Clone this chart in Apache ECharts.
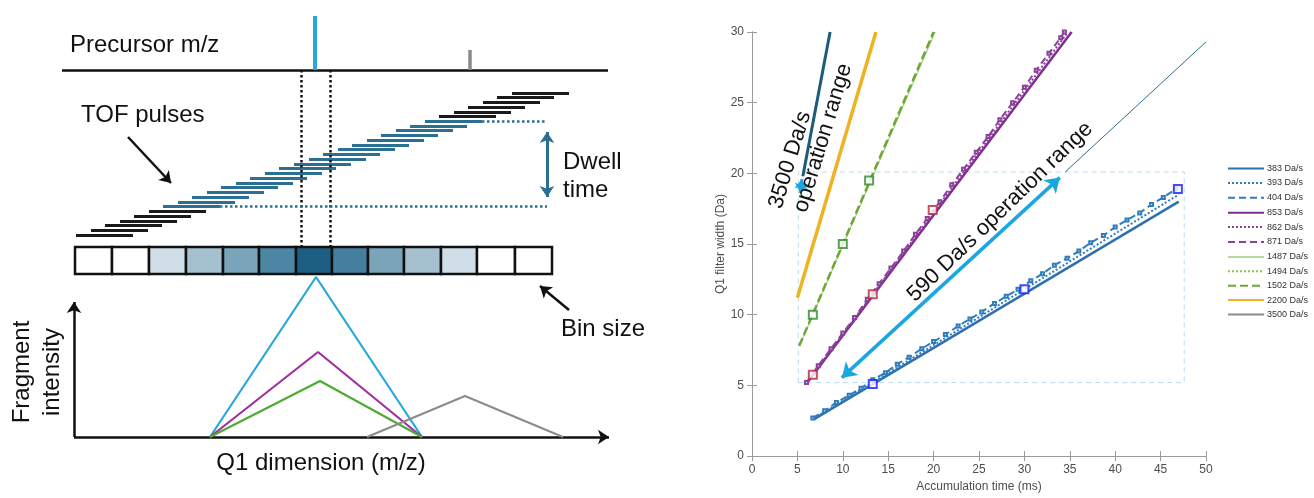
<!DOCTYPE html>
<html>
<head>
<meta charset="utf-8">
<script src="https://cdn.jsdelivr.net/npm/echarts@6/dist/echarts.min.js"></script>
<style>
  html, body { margin: 0; padding: 0; background: #fff; }
  #chart { width: 1314px; height: 498px; }
</style>
</head>
<body>
<div id="chart"></div>
<script>
// ---------- left: schematic (drawn on a hidden 620 x 498 value grid) ----------
const precursorAxis = [[62, 70], [608, 70]];
const precursorPeaks = [[[315, 16], [315, 70]], [[470, 50], [470, 70]]];
const windowX = [301, 330];
const windowY = [70, 247];

// TOF pulses: start x / y of each pulse bar, bars 6..24 fall inside the dwell time
const pulseX = [76, 91, 105, 120, 134, 149, 163, 178, 192, 207, 221, 236, 250, 265, 279, 294,
  309, 323, 338, 352, 367, 381, 396, 410, 425, 439, 454, 468, 483, 497, 512];
const pulseY = [235, 230.3, 225.5, 220.8, 216, 211.3, 206.6, 201.8, 197.1, 192.3, 187.6, 182.9,
  178.1, 173.4, 168.6, 163.9, 159.2, 154.4, 149.7, 144.9, 140.2, 135.5, 130.7, 126, 121.2,
  116.5, 111.8, 107, 102.3, 97.5, 92.8];
const pulseLen = 57;
const dwellPulses = [6, 24];
const dwellX = 547;

// Q1 bins
const binEdges = [75, 112, 149, 186, 223, 259, 296, 332, 368, 404, 441, 477, 515, 552];
const binShades = ['#ffffff', '#ffffff', '#cfdee7', '#a5c1d0', '#7aa4ba', '#4b86a4', '#1c5f82',
  '#447fa0', '#7aa4ba', '#a5c1d0', '#cfdee7', '#ffffff', '#ffffff'];
const binRowY = [247, 274];

// fragment peaks
const blueTri = [[210, 437], [316, 277], [422, 437]];
const purpleTri = [[210, 437], [318, 352], [422, 437]];
const greenTri = [[210, 437], [320, 381], [422, 437]];
const grayTri = [[367, 437], [465, 396], [563, 437]];

// ---------- right: Q1 filter width (Da) vs accumulation time (ms) ----------
const s383 = [[6.8, 2.6], [47.0, 18.0]];
const s393 = [[6.8, 2.65], [47.0, 18.5]];
const s404 = [[6.7, 2.7], [8.0, 3.2], [9.3, 3.8], [10.7, 4.3], [12.0, 4.8], [13.3, 5.4], [14.7, 5.9],
  [16.0, 6.5], [17.3, 7.0], [18.7, 7.6], [20.0, 8.1], [21.3, 8.6], [22.7, 9.2], [24.0, 9.7],
  [25.3, 10.2], [26.7, 10.8], [28.0, 11.3], [29.3, 11.8], [30.7, 12.4], [32.0, 12.9], [33.3, 13.5],
  [34.7, 14.0], [36.0, 14.5], [37.3, 15.1], [38.7, 15.6], [40.0, 16.2], [41.3, 16.7], [42.7, 17.2],
  [44.0, 17.8], [45.3, 18.3], [46.7, 18.9]];
const s853 = [[6.1, 5.2], [35.2, 30]];
const s862 = [[6.1, 5.25], [34.8, 30]];
const s871 = [[6.0, 5.2], [7.3, 6.4], [8.7, 7.6], [10.0, 8.7], [11.3, 9.8], [12.7, 11.1], [14.0, 12.2],
  [15.3, 13.3], [16.7, 14.5], [18.0, 15.7], [19.3, 16.8], [20.7, 18.0], [22.0, 19.2], [23.3, 20.3],
  [24.7, 21.5], [26.0, 22.6], [27.3, 23.8], [28.7, 25.0], [30.0, 26.1], [31.3, 27.3], [32.7, 28.5],
  [34.0, 29.6], [34.4, 30.0]];
const s1487 = [[5.3, 7.9], [20.2, 30]];
const s1494 = [[5.3, 7.9], [20.1, 30]];
const s1502 = [[5.2, 7.8], [20.0, 30]];
const s2200 = [[5.0, 11.2], [13.65, 30]];
const s3500 = [[5.6, 19.8], [8.6, 30]];

const blueMarks = [[13.3, 5.1], [30.0, 11.8], [46.9, 18.9]];
const redMarks = [[6.7, 5.75], [13.3, 11.45], [19.9, 17.4]];
const greenMarks = [[6.7, 10.0], [10.0, 15.0], [12.9, 19.5]];

const arrow590 = [[9.9, 5.55], [33.9, 19.7]];
const line590 = [[34.5, 20.1], [50, 29.3]];
const arrow3500 = [[5.5, 19.6], [5.35, 18.6]];
const rangeBox = [[5.1, 5.2], [47.6, 5.2], [47.6, 20.1], [5.1, 20.1], [5.1, 5.2]];

const FONT = '"Liberation Sans", Arial, sans-serif';
const chart = echarts.init(document.getElementById('chart'));

function seg(coords, color, width, type) {
  return { coords: coords, lineStyle: { color: color, width: width, type: type || 'solid', opacity: 1 } };
}

const pulseSegs = pulseX.map((x, i) => {
  const inDwell = i >= dwellPulses[0] && i <= dwellPulses[1];
  return seg([[x, pulseY[i]], [x + pulseLen, pulseY[i]]], inDwell ? '#2b6f92' : '#1a1a1a', 3);
});

const plainSegs = [
  seg(precursorAxis, '#111', 2.5),
  seg(precursorPeaks[0], '#27a7de', 4),
  seg(precursorPeaks[1], '#8a8a8a', 3.5)
].concat(pulseSegs).concat([
  seg([[windowX[0], windowY[0]], [windowX[0], windowY[1]]], '#111', 2.5, [2.5, 2.5]),
  seg([[windowX[1], windowY[0]], [windowX[1], windowY[1]]], '#111', 2.5, [2.5, 2.5]),
  seg([[pulseX[dwellPulses[1]] + pulseLen, pulseY[dwellPulses[1]]], [dwellX, pulseY[dwellPulses[1]]]], '#2b6f92', 2.5, [2.5, 2.5]),
  seg([[pulseX[dwellPulses[0]] + pulseLen, pulseY[dwellPulses[0]]], [dwellX, pulseY[dwellPulses[0]]]], '#2b6f92', 2.5, [2.5, 2.5])
]);

const singleArrows = [
  seg([[74, 437], [74, 302]], '#111', 2.5),
  seg([[74, 437], [609, 437]], '#111', 2.5),
  seg([[128, 137], [171, 183]], '#111', 2.5),
  seg([[569, 310], [540, 286]], '#111', 2.5)
];

function tri(name, data, color) {
  return {
    type: 'line', name: name, xAxisIndex: 0, yAxisIndex: 0, data: data,
    symbol: 'none', lineStyle: { color: color, width: 2.2 }, z: 3
  };
}

function rateLine(name, data, color, width, type, marker) {
  return {
    type: 'line', name: name, xAxisIndex: 1, yAxisIndex: 1, data: data,
    symbol: marker ? 'emptyRect' : 'none', symbolSize: 3, showAllSymbol: true,
    itemStyle: { color: color, borderWidth: 1 },
    lineStyle: { color: color, width: width, type: type },
    emphasis: { disabled: true }
  };
}

function marks(data, color) {
  return {
    type: 'scatter', xAxisIndex: 1, yAxisIndex: 1, data: data,
    symbol: 'emptyRect', symbolSize: 8,
    itemStyle: { color: color, borderColor: color, borderWidth: 2 }, z: 6
  };
}

const boxAxis = {
  axisLine: { show: true, lineStyle: { color: '#9a9a9a', width: 1 } },
  axisTick: { show: true, inside: true, length: 5, lineStyle: { color: '#9a9a9a' } },
  splitLine: { show: false }
};

function txt(text, x, y, size, rot, align) {
  return {
    type: 'text', x: x, y: y, rotation: (rot || 0) * Math.PI / 180, z: 100,
    style: { text: text, fontSize: size, fontFamily: FONT, fill: '#111',
      align: align || 'left', verticalAlign: 'middle' }
  };
}

const option = {
  animation: false,
  backgroundColor: '#fff',
  grid: [
    { left: 0, top: 0, width: 620, height: 498 },
    { left: 752, top: 32, width: 454, height: 427 }
  ],
  xAxis: [
    { gridIndex: 0, type: 'value', min: 0, max: 620, show: false },
    Object.assign({ gridIndex: 1, type: 'value', min: 0, max: 50, interval: 5, position: 'bottom',
      name: 'Accumulation time (ms)', nameLocation: 'middle', nameGap: 24,
      nameTextStyle: { color: '#4d4d4d', fontSize: 12, fontFamily: FONT },
      axisLabel: { color: '#4d4d4d', fontSize: 12, margin: 8, fontFamily: FONT } }, boxAxis),
    Object.assign({ gridIndex: 1, type: 'value', min: 0, max: 50, interval: 5, position: 'top',
      axisLabel: { show: false } }, boxAxis)
  ],
  yAxis: [
    { gridIndex: 0, type: 'value', min: 0, max: 498, inverse: true, show: false },
    Object.assign({ gridIndex: 1, type: 'value', min: 0, max: 30, interval: 5, position: 'left',
      name: 'Q1 filter width (Da)', nameLocation: 'middle', nameGap: 22,
      nameTextStyle: { color: '#4d4d4d', fontSize: 12, fontFamily: FONT },
      axisLabel: { color: '#4d4d4d', fontSize: 12, margin: 8, fontFamily: FONT } }, boxAxis),
    Object.assign({ gridIndex: 1, type: 'value', min: 0, max: 30, interval: 5, position: 'right',
      axisLabel: { show: false } }, boxAxis)
  ],
  legend: {
    orient: 'vertical', left: 1222, top: 159,
    itemWidth: 36, itemHeight: 10, itemGap: 5.4,
    itemStyle: { opacity: 0 },
    textStyle: { color: '#333', fontSize: 9, fontFamily: FONT, padding: [0, 0, 0, -2] },
    selectedMode: false,
    data: ['383 Da/s', '393 Da/s', '404 Da/s', '853 Da/s', '862 Da/s', '871 Da/s',
      '1487 Da/s', '1494 Da/s', '1502 Da/s', '2200 Da/s',
      { name: '3500 Da/s', lineStyle: { color: '#8c8c8c' } }]
  },
  graphic: [
    txt('Precursor m/z', 70, 45, 24),
    txt('TOF pulses', 81, 115, 24),
    txt('Dwell', 563, 162, 24),
    txt('time', 563, 190, 24),
    txt('Bin size', 561, 329, 24),
    txt('Fragment', 22, 372, 24, 90, 'center'),
    txt('intensity', 52, 372, 24, 90, 'center'),
    txt('Q1 dimension (m/z)', 321, 463, 24, 0, 'center'),
    txt('3500 Da/s', 790, 160, 22, 73, 'center'),
    txt('operation range', 823, 138, 22, 73, 'center'),
    txt('590 Da/s operation range', 1000, 212, 22, 44, 'center')
  ],
  series: [
    // schematic
    {
      type: 'lines', coordinateSystem: 'cartesian2d', xAxisIndex: 0, yAxisIndex: 0,
      data: plainSegs, symbol: 'none', lineStyle: { opacity: 1 }, z: 2
    },
    {
      type: 'lines', coordinateSystem: 'cartesian2d', xAxisIndex: 0, yAxisIndex: 0,
      data: singleArrows, symbol: ['none', 'arrow'], symbolSize: 11, lineStyle: { opacity: 1 }, z: 2
    },
    {
      type: 'lines', coordinateSystem: 'cartesian2d', xAxisIndex: 0, yAxisIndex: 0,
      data: [seg([[dwellX, 132], [dwellX, 197]], '#2b6f92', 3)],
      symbol: ['arrow', 'arrow'], symbolSize: 11, lineStyle: { opacity: 1 }, z: 2
    },
    {
      type: 'custom', xAxisIndex: 0, yAxisIndex: 0, z: 2,
      data: binShades.map((c, i) => [binEdges[i], binEdges[i + 1], binRowY[0], binRowY[1]]),
      renderItem: function (params, api) {
        const p0 = api.coord([api.value(0), api.value(2)]);
        const p1 = api.coord([api.value(1), api.value(3)]);
        return {
          type: 'rect',
          shape: { x: p0[0], y: p0[1], width: p1[0] - p0[0], height: p1[1] - p0[1] },
          style: { fill: binShades[params.dataIndex], stroke: '#111', lineWidth: 2.5 }
        };
      }
    },
    tri('blue peak', blueTri, '#27a7de'),
    tri('purple peak', purpleTri, '#a0309e'),
    tri('green peak', greenTri, '#4daa33'),
    tri('gray peak', grayTri, '#8c8c8c'),

    // rate lines
    rateLine('383 Da/s', s383, '#2f6fae', 2.5, 'solid'),
    rateLine('393 Da/s', s393, '#2f7dbd', 2, 'dotted'),
    rateLine('404 Da/s', s404, '#2f7dbd', 2, [7, 4], true),
    rateLine('853 Da/s', s853, '#7e2f8e', 2.5, 'solid'),
    rateLine('862 Da/s', s862, '#8e3f9e', 2, 'dotted'),
    rateLine('871 Da/s', s871, '#8e3f9e', 2, [7, 4], true),
    rateLine('1487 Da/s', s1487, '#b9d9a3', 1, 'solid'),
    rateLine('1494 Da/s', s1494, '#8cc05a', 1.5, 'dotted'),
    rateLine('1502 Da/s', s1502, '#6da832', 2.5, [8, 4]),
    rateLine('2200 Da/s', s2200, '#efb322', 3.5, 'solid'),
    rateLine('3500 Da/s', s3500, '#1c5b7c', 3, 'solid'),

    marks(blueMarks, '#1a1aff'),
    marks(redMarks, '#b8283c'),
    marks(greenMarks, '#2d8a2d'),

    // annotations
    {
      type: 'line', xAxisIndex: 1, yAxisIndex: 1, data: rangeBox, symbol: 'none',
      lineStyle: { color: '#b8dcf2', width: 1, type: [5, 4] }, z: 1
    },
    {
      type: 'line', xAxisIndex: 1, yAxisIndex: 1, data: line590, symbol: 'none',
      lineStyle: { color: '#2e6f8e', width: 1 }
    },
    {
      type: 'lines', coordinateSystem: 'cartesian2d', xAxisIndex: 1, yAxisIndex: 1,
      data: [seg(arrow590, '#1aa7e1', 3.5)], symbol: ['arrow', 'arrow'], symbolSize: 14,
      lineStyle: { opacity: 1 }, z: 5
    },
    {
      type: 'lines', coordinateSystem: 'cartesian2d', xAxisIndex: 1, yAxisIndex: 1,
      data: [seg(arrow3500, '#1aa7e1', 3)], symbol: ['arrow', 'arrow'], symbolSize: 10,
      lineStyle: { opacity: 1 }, z: 5
    }
  ]
};

chart.setOption(option);
</script>
</body>
</html>
